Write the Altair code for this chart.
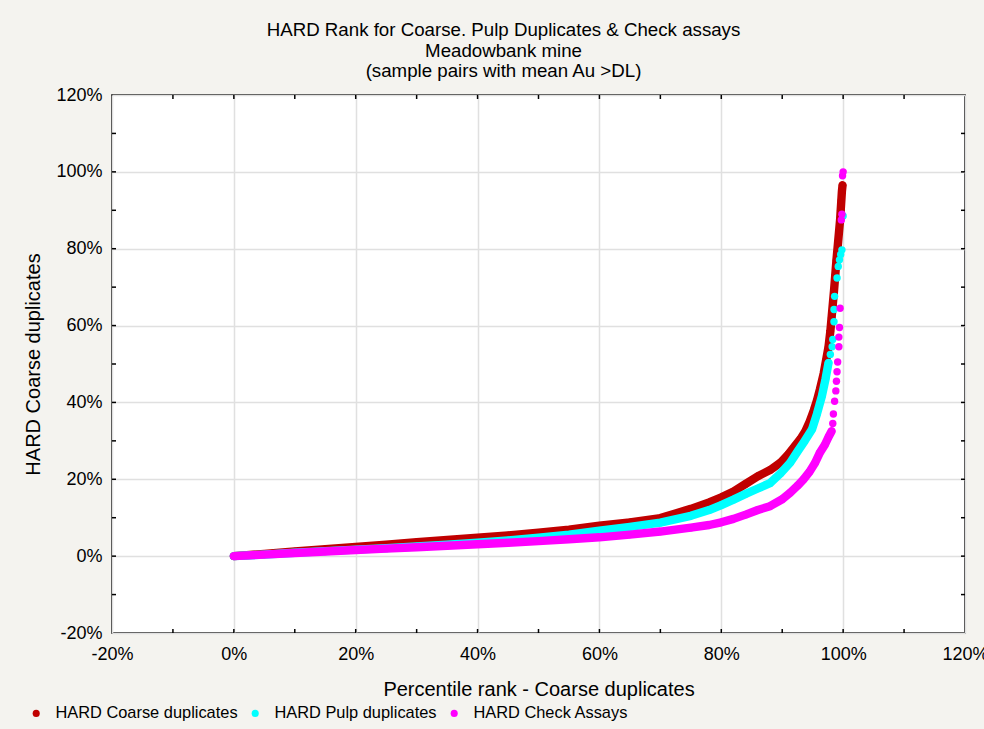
import altair as alt
import pandas as pd

TITLE = ["HARD Rank for Coarse. Pulp Duplicates & Check assays",
         "Meadowbank mine",
         "(sample pairs with mean Au >DL)"]
X_TITLE = "Percentile rank - Coarse duplicates"
Y_TITLE = "HARD Coarse duplicates"
SERIES = ["HARD Coarse duplicates", "HARD Pulp duplicates", "HARD Check Assays"]
COLORS = ["#c00000", "#00ffff", "#ff00ff"]
AXIS_VALUES = [-20, 0, 20, 40, 60, 80, 100, 120]
MINOR_TICKS = [-10, 0, 10, 20, 30, 40, 50, 60, 70, 80, 90, 100, 110]

# HARD Coarse duplicates (percent rank, HARD %)
COARSE_BAND_X = [0, 5, 10, 15, 20, 25, 30, 35, 40, 45, 50, 55, 60, 65, 70, 75, 78, 80, 82, 84, 86, 88,
                 89.7, 91, 92, 93, 93.8, 94.5, 95.2, 95.7, 96.2, 96.8, 97.2, 97.6, 97.9, 98.1, 98.3,
                 98.5, 98.7, 98.9, 99.1, 99.3, 99.5, 99.6, 99.7, 99.8, 99.9]
COARSE_BAND_Y = [0, 0.6, 1.2, 1.8, 2.4, 3.0, 3.6, 4.2, 4.8, 5.4, 6.1, 6.9, 7.9, 8.8, 9.9, 12.3, 14.0, 15.3,
                 16.8, 18.8, 20.8, 22.4, 24.3, 26.5, 28.5, 30.5, 32.5, 35.0, 38.0, 40.5, 43.5, 47.5, 51.0,
                 54.5, 58.5, 62.0, 65.5, 69.0, 73.0, 77.0, 80.5, 84.0, 87.5, 90.0, 92.5, 95.0, 96.5]
COARSE_DOT_X = []
COARSE_DOT_Y = []

# HARD Pulp duplicates
PULP_BAND_X = [0, 5, 10, 15, 20, 25, 30, 35, 40, 45, 50, 55, 60, 65, 70, 75, 78, 80, 82, 84, 86, 88,
               89.7, 91.3, 92.5, 93.7, 94.9, 95.7, 96.5, 97.1, 97.6]
PULP_BAND_Y = [0, 0.4, 0.9, 1.3, 1.7, 2.1, 2.5, 3.0, 3.5, 4.1, 4.8, 5.6, 6.6, 7.6, 8.7, 10.5, 12.0, 13.3,
               14.7, 16.2, 17.6, 19.0, 21.5, 24.3, 27.2, 30.0, 33.0, 37.0, 41.6, 46.0, 50.3]
PULP_DOT_X = [97.9, 98.2, 98.3, 98.5, 98.5, 98.6, 99.0, 99.2, 99.4, 99.6, 99.8, 100]
PULP_DOT_Y = [52.5, 54.5, 56.4, 61.0, 64.2, 67.6, 72.4, 75.4, 77.1, 78.5, 79.7, 88.5]

# HARD Check Assays
CHECK_BAND_X = [0, 5, 10, 15, 20, 25, 30, 35, 40, 45, 50, 55, 60, 65, 70, 75, 78, 80, 82, 84, 86, 88,
                90, 91.3, 92.5, 93.5, 94.5, 95.4, 96.2, 97.0, 97.6, 98.1]
CHECK_BAND_Y = [0, 0.4, 0.8, 1.2, 1.6, 1.95, 2.3, 2.7, 3.1, 3.5, 3.9, 4.4, 4.9, 5.6, 6.4, 7.4, 8.1, 8.8,
                9.7, 10.8, 12.0, 13.0, 14.8, 16.5, 18.3, 20.0, 22.0, 24.3, 27.0, 29.0, 31.0, 32.5]
CHECK_DOT_X = [98.3, 98.4, 98.6, 98.8, 98.9, 99.0, 99.1, 99.3, 99.3, 99.4, 99.5, 99.7, 99.8, 99.9, 100]
CHECK_DOT_Y = [34.5, 37.0, 40.3, 43.0, 45.5, 48.0, 50.5, 54.5, 57.0, 59.5, 64.5, 87.5, 89.0, 99.0, 100]

rows = []
parts = [
    (SERIES[0], COARSE_BAND_X, COARSE_BAND_Y, COARSE_DOT_X, COARSE_DOT_Y),
    (SERIES[1], PULP_BAND_X, PULP_BAND_Y, PULP_DOT_X, PULP_DOT_Y),
    (SERIES[2], CHECK_BAND_X, CHECK_BAND_Y, CHECK_DOT_X, CHECK_DOT_Y),
]
for name, bx, by, dx, dy in parts:
    for i, (a, b) in enumerate(zip(bx, by)):
        rows.append({"series": name, "part": "band", "i": i, "x": a, "y": b})
    for i, (a, b) in enumerate(zip(dx, dy)):
        rows.append({"series": name, "part": "dots", "i": 1000 + i, "x": a, "y": b})
df = pd.DataFrame(rows)
ticks = pd.DataFrame({"t": MINOR_TICKS})

W, H = 853, 538
FONT = "Liberation Sans"
sc = alt.Scale(domain=[-20, 120], nice=False, zero=False)
GRID = "#e0e0e0"


def axis(title, lp, tp):
    return alt.Axis(values=AXIS_VALUES, labelExpr="datum.value + '%'", title=title,
                    grid=True, gridColor=GRID, gridWidth=1.5, ticks=False, domain=False,
                    labelPadding=lp, titlePadding=tp, labelFont=FONT, labelFontSize=18,
                    labelColor="black", titleFont=FONT, titleFontSize=20,
                    titleFontWeight="normal", titleColor="black", labelFlush=False,
                    labelOverlap=False)


XAX = axis(X_TITLE, 12, 16)
YAX = axis(Y_TITLE, 10, 12)

cscale = alt.Scale(domain=SERIES, range=COLORS)
legend = alt.Legend(orient="none", legendX=-84, legendY=610, direction="horizontal", title=None,
                    symbolType="circle", symbolSize=50, symbolStrokeWidth=0, labelFont=FONT,
                    labelFontSize=16.4, labelColor="black", labelOffset=11, columnPadding=9,
                    padding=0, labelLimit=0)

layers = []
for name, color in zip(SERIES, COLORS):
    line = alt.Chart(df).transform_filter(
        f"datum.series == '{name}' && datum.part == 'band'"
    ).mark_line(strokeWidth=8.4, strokeCap="round", strokeJoin="round", color=color).encode(
        x=alt.X("x:Q", scale=sc, axis=XAX, title=X_TITLE),
        y=alt.Y("y:Q", scale=sc, axis=YAX, title=Y_TITLE),
        order="i:Q",
    )
    pts = alt.Chart(df).transform_filter(
        f"datum.series == '{name}'"
    ).mark_circle(size=55, opacity=1).encode(
        x=alt.X("x:Q", scale=sc, axis=XAX, title=X_TITLE),
        y=alt.Y("y:Q", scale=sc, axis=YAX, title=Y_TITLE),
        color=alt.Color("series:N", scale=cscale, legend=legend),
    )
    layers += [line, pts]

TL = 4
left = alt.Chart(ticks).mark_rule(color="black", strokeWidth=1.5).encode(
    y=alt.Y("t:Q", scale=sc, axis=YAX, title=Y_TITLE), x=alt.value(0), x2=alt.value(TL))
right = alt.Chart(ticks).mark_rule(color="black", strokeWidth=1.5).encode(
    y=alt.Y("t:Q", scale=sc, axis=YAX, title=Y_TITLE), x=alt.value(W - TL), x2=alt.value(W))
top = alt.Chart(ticks).mark_rule(color="black", strokeWidth=1.5).encode(
    x=alt.X("t:Q", scale=sc, axis=XAX, title=X_TITLE), y=alt.value(0), y2=alt.value(TL))
bottom = alt.Chart(ticks).mark_rule(color="black", strokeWidth=1.5).encode(
    x=alt.X("t:Q", scale=sc, axis=XAX, title=X_TITLE), y=alt.value(H - TL), y2=alt.value(H))
layers += [left, right, top, bottom]

chart = alt.layer(*layers).properties(
    width=W, height=H,
    title=alt.TitleParams(TITLE, fontSize=18.7, font=FONT, fontWeight="normal", anchor="middle",
                          dx=-35, offset=5, lineHeight=20.5, color="black"),
    autosize=alt.AutoSizeParams(type="none"),
    padding={"left": 112, "top": 95, "right": 19, "bottom": 96},
    background="#f4f3ef",
).configure_view(stroke="black", strokeWidth=1.6, fill="white")

chart.save("out.html", embed_options={"renderer": "svg", "actions": False})
